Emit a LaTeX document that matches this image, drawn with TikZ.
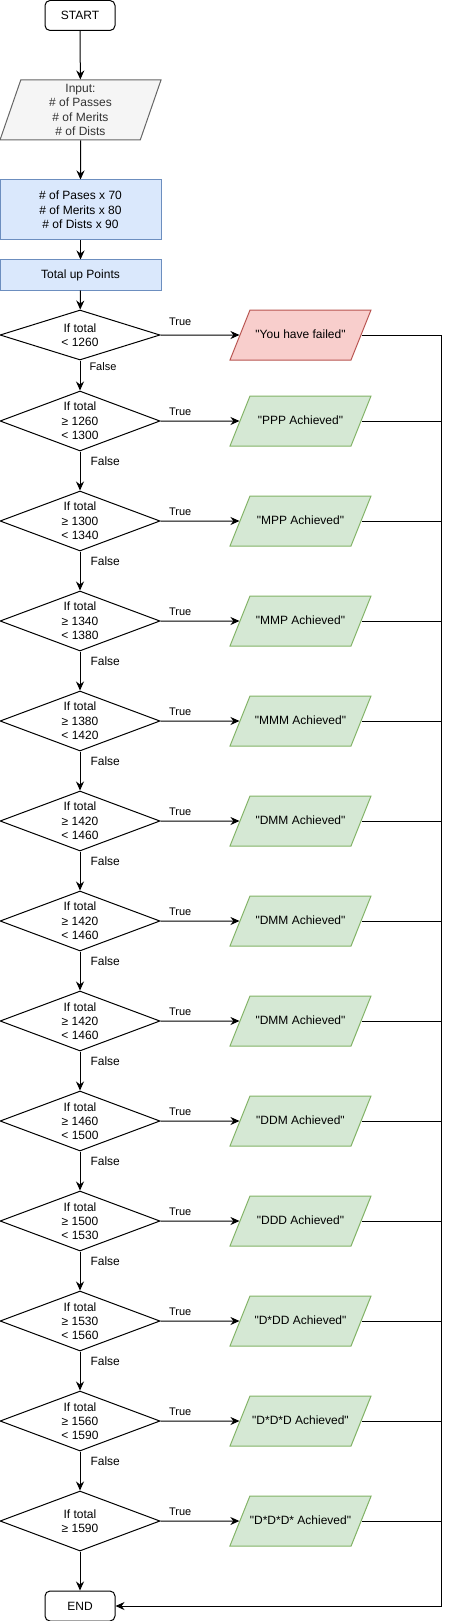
\documentclass[tikz,border=0pt]{standalone}
\usepackage{fontspec}
\setmainfont{Liberation Sans}[Ligatures=TeXOff]
\usetikzlibrary{shapes.geometric, arrows.meta, positioning}

\definecolor{procfill}{HTML}{DAE8FC}
\definecolor{procline}{HTML}{6C8EBF}
\definecolor{infill}{HTML}{F5F5F5}
\definecolor{inline}{HTML}{666666}
\definecolor{failfill}{HTML}{F8CECC}
\definecolor{failline}{HTML}{B85450}
\definecolor{okfill}{HTML}{D5E8D4}
\definecolor{okline}{HTML}{82B366}

\begin{document}
\begin{tikzpicture}[x=1pt, y=-1pt, line width=1pt,
    font=\fontsize{12}{14.3}\selectfont,
    every node/.style={align=center},
    terminal/.style={draw, rounded corners=5pt, minimum width=70pt, minimum height=30pt, inner sep=0pt},
    process/.style={draw=procline, fill=procfill, minimum width=161pt, inner sep=0pt},
    decision/.style={draw, diamond, aspect=2.67, minimum width=160pt, inner sep=0pt},
    output/.style={trapezium, trapezium left angle=68.2, trapezium right angle=111.8,
        trapezium stretches body, draw=okline, fill=okfill,
        text height=9pt, text depth=3pt, inner xsep=0pt, inner ysep=19pt,
        minimum width=141pt, minimum height=50pt},
    arrow/.style={-{Stealth[length=9pt,width=8pt]}},
    small/.style={font=\fontsize{11}{13}\selectfont}]
    \useasboundingbox (0,0) rectangle (450,1621);

    % Start, input and points
    \node[terminal] (start) at (80,15.5) {START};
    \node[trapezium, trapezium left angle=70.7, trapezium right angle=109.3,
        trapezium stretches body, draw=inline, fill=infill, text=black!80,
        minimum width=161pt, minimum height=60pt, inner xsep=0pt, inner ysep=4pt] (input) at (80.5,110)
        {Input:\\\# of Passes\\\# of Merits\\\# of Dists};
    \node[process, minimum height=60pt] (calc) at (80.5,210) {\# of Pases x 70\\\# of Merits x 80\\\# of Dists x 90};
    \node[process, minimum height=30pt] (total) at (80.5,275) {Total up Points};

    % First check
    \node[decision, minimum height=50pt] (d1) at (80,335) {If total\\< 1260};
    \node[output, draw=failline, fill=failfill] (o1) at (300.5,335) {"You have failed"};

    % Grade checks
    \foreach \i/\lo/\hi/\grade in {2/1260/1300/PPP, 3/1300/1340/MPP, 4/1340/1380/MMP,
        5/1380/1420/MMM, 6/1420/1460/DMM, 7/1420/1460/DMM, 8/1420/1460/DMM,
        9/1460/1500/DDM, 10/1500/1530/DDD, 11/1530/1560/D*DD, 12/1560/1590/D*D*D} {
        \node[decision, minimum height=60pt] (d\i) at (80,{421+(\i-2)*100}) {If total\\≥ \lo\\< \hi};
        \node[output] (o\i) at (300.5,{421+(\i-2)*100}) {"\grade{} Achieved"};
    }
    \node[decision, minimum height=60pt] (d13) at (80,1521) {If total\\≥ 1590};
    \node[output] (o13) at (300.5,1521) {"D*D*D* Achieved"};

    \node[terminal] (end) at (80,1606) {END};
    \coordinate (bus) at (441,335);

    % Arrows
    \draw[arrow] (start) -- (input);
    \draw[arrow] (input) -- (calc);
    \draw[arrow] (calc) -- (total);
    \draw[arrow] (total) -- (d1);
    \draw[arrow] (d1) -- (o1) node[small, pos=0.25, yshift=13pt] {True};
    \draw[arrow] (d1) -- (d2) node[small, pos=0, anchor=west, xshift=9pt, yshift=-6pt, inner sep=0pt] {False};
    \foreach \i [evaluate=\i as \j using int(\i-1)] in {3,...,13}
        \draw[arrow] (d\j) -- (d\i) node[pos=0, anchor=west, xshift=10pt, yshift=-10pt, inner sep=0pt] {False};
    \foreach \i in {2,...,13}
        \draw[arrow] (d\i) -- (o\i) node[small, pos=0.25, yshift=9pt] {True};
    \draw[arrow] (d13) -- (end);

    % Results to END
    \foreach \i in {2,...,13}
        \draw (o\i.east) -- (o\i.east -| bus);
    \draw[arrow] (o1.east) -| (bus |- end) -- (end.east);
\end{tikzpicture}
\end{document}
